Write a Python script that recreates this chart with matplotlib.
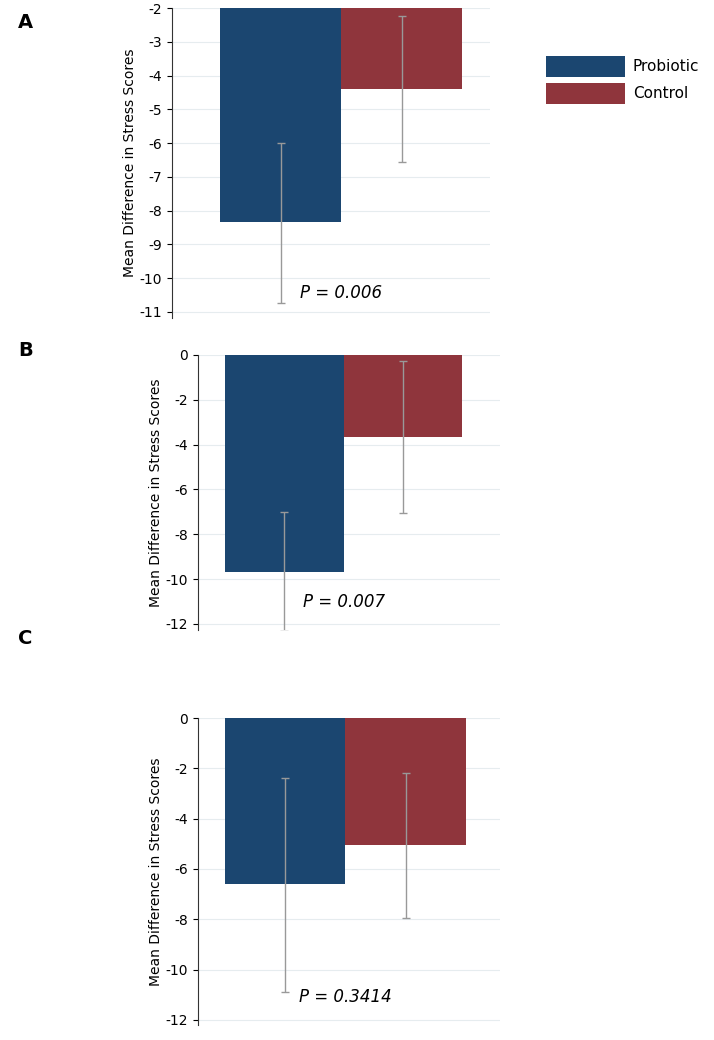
import matplotlib.pyplot as plt

groups = ["Probiotic", "Control"]
means_a = [-8.35, -4.4]
lo_a = [-10.75, -6.55]
hi_a = [-6.0, -2.25]
means_b = [-9.7, -3.65]
lo_b = [-12.3, -7.05]
hi_b = [-7.0, -0.25]
means_c = [-6.6, -5.05]
lo_c = [-10.9, -7.95]
hi_c = [-2.4, -2.2]
pvals = ["0.006", "0.007", "0.3414"]
colors = ["#1b4670", "#8f353c"]

W, H = 714, 1040
fig = plt.figure(figsize=(W / 100, H / 100), dpi=100)


def px_axes(l, t, r, b):
    return fig.add_axes([l / W, 1 - b / H, (r - l) / W, (b - t) / H])


def panel(ax, means, lo, hi, base, ylim, ticks, xlim, p, pty):
    for i in range(2):
        ax.bar(i, means[i] - base, bottom=base, width=1.0, color=colors[i],
               label=groups[i], zorder=2)
        ax.errorbar(i, means[i], yerr=[[means[i] - lo[i]], [hi[i] - means[i]]],
                    fmt="none", ecolor="#999999", elinewidth=1, capsize=3, zorder=3)
    ax.set_ylim(*ylim)
    ax.set_xlim(*xlim)
    ax.set_yticks(ticks)
    ax.set_yticklabels([str(t) for t in ticks], fontsize=10)
    ax.set_xticks([])
    ax.grid(axis="y", color="#e6ecef", lw=0.8, zorder=0)
    for s in ["top", "right", "bottom"]:
        ax.spines[s].set_visible(False)
    ax.spines["left"].set_color("#333333")
    ax.set_ylabel("Mean Difference in Stress Scores", fontsize=10, labelpad=2)
    ax.text(0.5, pty, "P = " + p, fontsize=12, style="italic", ha="center", va="center")


ax_a = px_axes(172, 8, 490, 318)
panel(ax_a, means_a, lo_a, hi_a, -2, (-11.18, -2), list(range(-11, -1)),
      (-0.9, 1.73), pvals[0], -10.45)
ax_b = px_axes(198, 355, 500, 630)
panel(ax_b, means_b, lo_b, hi_b, 0, (-12.27, 0), list(range(-12, 1, 2)),
      (-0.73, 1.82), pvals[1], -11.0)
ax_c = px_axes(198, 718, 500, 1025)
panel(ax_c, means_c, lo_c, hi_c, 0, (-12.2, 0), list(range(-12, 1, 2)),
      (-0.72, 1.78), pvals[2], -11.1)

h, l = ax_a.get_legend_handles_labels()
fig.legend(h, l, loc="upper left", bbox_to_anchor=(532 / W, 1 - 42 / H),
           fontsize=11, frameon=False, handlelength=5.2, handleheight=1.8,
           handletextpad=0.5, labelspacing=0.35)

for lab, y in zip("ABC", [22, 350, 638]):
    fig.text(18 / W, 1 - y / H, lab, fontsize=14, fontweight="bold", va="center")

fig.savefig("out.png", dpi=100)
